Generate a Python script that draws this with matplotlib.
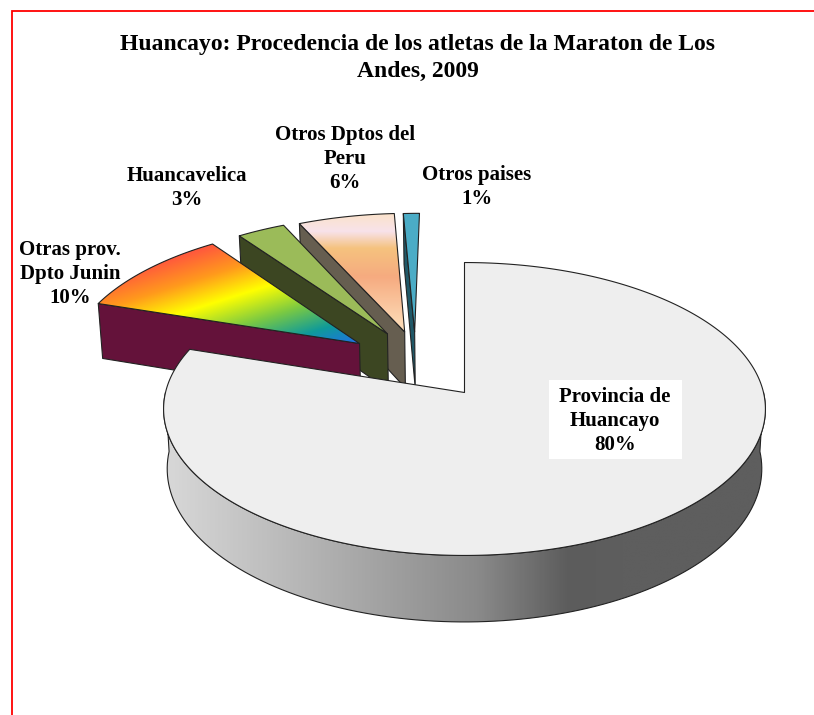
"""
Huancayo marathon origin: exploded 3D-looking pie drawn by hand.
"""
import numpy as np
import matplotlib
matplotlib.use("Agg")
import matplotlib.pyplot as plt
from matplotlib.colors import LinearSegmentedColormap
from matplotlib.patches import Polygon, Rectangle

TITLE = "Huancayo: Procedencia de los atletas de la Maraton de Los\nAndes, 2009"
names = ["Provincia de\nHuancayo", "Otras prov.\nDpto Junin", "Huancavelica",
         "Otros Dptos del\nPeru", "Otros paises"]
values = [80, 10, 3, 6, 1]

# layout only: explode offsets in pie units, label centres in pixels
offsets = [(0, 0), (-0.365, -0.352), (-0.27, -0.425), (-0.21, -0.44), (-0.175, -0.44)]
label_pos = [(615, 421), (70, 274), (187, 188), (345, 159), (477, 187)]

CX, CY = 464.5, 392.5
A, K, P, H = 299, 144.6, 0.1126, 59
EDGE = "#222222"


def project(u, v, z=0.0):
    d = 1 - P * v
    return CX + A * u * (1 - 0.012 * z) / d, CY + (K * v + H * z) / d


def slice_points(a0, a1, off, z=0.0, n=120):
    # a0 -> a1 along the rim, angles in degrees counter-clockwise from east
    t = np.radians(np.linspace(a0, a1, n))
    return project(off[0] + np.cos(t), off[1] - np.sin(t), z)


def poly(ax, xs, ys, **kw):
    p = Polygon(np.column_stack([xs, ys]), closed=True, lw=kw.pop("lw", 0.8),
                edgecolor=kw.pop("edgecolor", EDGE), joinstyle="round", **kw)
    ax.add_patch(p)
    return p


def gradient(ax, clip, box, tfunc, stops, zorder):
    x0, x1, y0, y1 = box
    gx, gy = np.meshgrid(np.linspace(x0, x1, 400), np.linspace(y0, y1, 400))
    cmap = LinearSegmentedColormap.from_list("g", stops)
    im = ax.imshow(tfunc(gx, gy), extent=(x0, x1, y1, y0), cmap=cmap, vmin=0, vmax=1,
                   aspect="auto", interpolation="bilinear", zorder=zorder)
    im.set_clip_path(clip)


plt.rcParams["font.family"] = ["Liberation Serif", "DejaVu Serif"]
fig = plt.figure(figsize=(8.14, 7.15), dpi=100)
ax = fig.add_axes([0, 0, 1, 1])

# slice angles from the values, clockwise from 12 o'clock
ends = 90 - np.cumsum(values) * 3.6 + 360
starts = np.concatenate([[450], ends[:-1]])

# painter's order: back slices first
top_cols = {2: "#9bbb59", 4: "#4bacc6"}
side_cols = {1: "#64123a", 2: "#3c4622", 3: "#665e50", 4: "#205867"}
z = 10
for i in [4, 3, 2, 1]:
    off = offsets[i]
    rx, ry = slice_points(starts[i], ends[i], off)
    bx, by = slice_points(starts[i], ends[i], off, 1)
    ax0, ay0 = project(off[0], off[1])
    bx0, by0 = project(off[0], off[1], 1)

    # radial wall on the left edge of the slice
    poly(ax, [rx[0], ax0, bx0, bx[0]], [ry[0], ay0, by0, by[0]], facecolor=side_cols[i], zorder=z)

    if i in top_cols:
        poly(ax, np.r_[ax0, rx], np.r_[ay0, ry], facecolor=top_cols[i], zorder=z + 2)
    else:
        clip = poly(ax, np.r_[ax0, rx], np.r_[ay0, ry], facecolor="none", zorder=z + 3)
        if i == 1:
            stops = [(0, "#ff5a3c"), (0.2, "#ff9a1c"), (0.4, "#ffff00"), (0.62, "#7ac943"),
                     (0.82, "#0f9a9a"), (1, "#2070e8")]
            gradient(ax, clip, (95, 365, 240, 348),
                     lambda x, y: (0.30 * x + 0.95 * y - 297) / 137, stops, z + 2)
        else:
            stops = [(0, "#fbe3cc"), (0.15, "#f8e2ea"), (0.3, "#f5c27e"), (0.55, "#f6ab80"), (1, "#fddcb8")]
            gradient(ax, clip, (298, 408, 212, 330),
                     lambda x, y: (y - 214) / 114, stops, z + 2)
    z += 10

# main slice: wall with grey gradient, then the flat top
off = offsets[0]
rx, ry = slice_points(180, 360, off)
bx, by = slice_points(180, 360, off, 1)
wall = poly(ax, np.r_[rx, bx[::-1]], np.r_[ry, by[::-1]], facecolor="none", zorder=z + 1)
grey_stops = [(0, "#d8d8d8"), (0.33, "#b2b2b2"), (0.68, "#8a8a8a"), (0.88, "#5c5c5c"), (1, "#5e5e5e")]
gradient(ax, wall, (160, 770, 390, 625), lambda x, y: np.clip((x - 165) / 460, 0, 1), grey_stops, z)

tx, ty = slice_points(starts[0], ends[0], off, n=400)
ax0, ay0 = project(off[0], off[1])
poly(ax, np.r_[ax0, tx], np.r_[ay0, ty], facecolor="#eeeeee", zorder=z + 2)

# frame: red line on the top and left, open on the other sides
ax.plot([11.5, 11.5, 814], [715, 11, 11], color="#ff0000", lw=1.3, zorder=2, solid_joinstyle="miter")

ax.text(418, 58, TITLE, ha="center", va="center", fontsize=17, fontweight="bold",
        linespacing=1.32, color="black", zorder=100)
for i, (name, val) in enumerate(zip(names, values)):
    if i == 0:
        ax.add_patch(Rectangle((549, 380), 133, 79, facecolor="white", edgecolor="none", zorder=z + 3))
    ax.text(label_pos[i][0], label_pos[i][1], f"{name}\n{val}%", ha="center", va="center",
            fontsize=15, fontweight="bold", linespacing=1.25, color="black", zorder=100)

ax.set_xlim(0, 814)
ax.set_ylim(715, 0)
ax.axis("off")
fig.savefig("out.png", dpi=100, facecolor="white")
